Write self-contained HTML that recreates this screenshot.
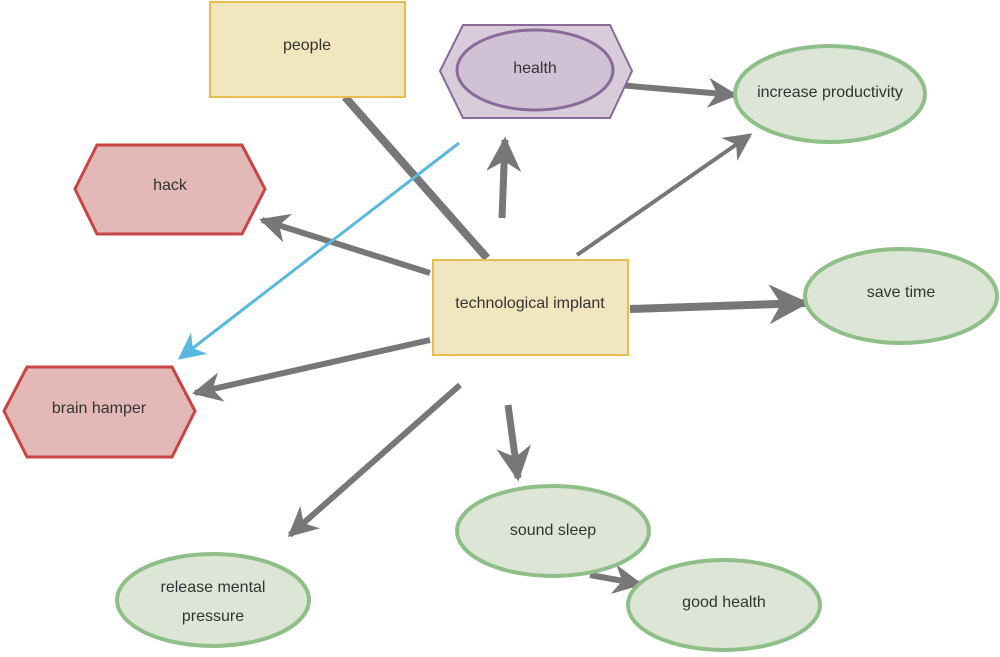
<!DOCTYPE html>
<html><head><meta charset="utf-8"><style>
html,body{margin:0;padding:0;background:#fff;width:1000px;height:657px;overflow:hidden}
svg text{font-family:"Liberation Sans",sans-serif;font-size:16px;fill:#333;text-anchor:middle;dominant-baseline:middle}
</style></head><body>
<svg width="1000" height="657" viewBox="0 0 1000 657">
<defs>
<marker id="ah" viewBox="0 0 10 10" refX="9" refY="5" markerWidth="5" markerHeight="5" orient="auto" markerUnits="strokeWidth">
<path d="M0,0 L10,5 L0,10 L3,5 Z" fill="#777"/></marker>
<marker id="ah2" viewBox="0 0 10 10" refX="9" refY="5" markerWidth="7" markerHeight="7" orient="auto" markerUnits="strokeWidth">
<path d="M0,0 L10,5 L0,10 L3,5 Z" fill="#777"/></marker>
<marker id="ahb" viewBox="0 0 10 10" refX="9" refY="5" markerWidth="9" markerHeight="9" orient="auto" markerUnits="strokeWidth">
<path d="M0,0 L10,5 L0,10 L3,5 Z" fill="#5ab8e0"/></marker>
</defs>
<g stroke="#777" fill="none">
<line x1="345" y1="97" x2="487" y2="258" stroke-width="8"/>
<line x1="502" y1="218" x2="505" y2="140" stroke-width="7" marker-end="url(#ah)"/>
<line x1="618" y1="85" x2="735" y2="95" stroke-width="6" marker-end="url(#ah)"/>
<line x1="577" y1="255" x2="750" y2="135" stroke-width="4" marker-end="url(#ah2)"/>
<line x1="430" y1="273" x2="262" y2="220" stroke-width="6" marker-end="url(#ah)"/>
<line x1="630" y1="309" x2="805" y2="303" stroke-width="8" marker-end="url(#ah)"/>
<line x1="430" y1="340" x2="195" y2="393" stroke-width="6" marker-end="url(#ah)"/>
<line x1="460" y1="385" x2="290" y2="535" stroke-width="6" marker-end="url(#ah)"/>
<line x1="508" y1="405" x2="518" y2="478" stroke-width="7" marker-end="url(#ah)"/>
<line x1="590" y1="575" x2="640" y2="584" stroke-width="6" marker-end="url(#ah)"/>
<line x1="459" y1="143" x2="180" y2="358" stroke="#5ab8e0" stroke-width="3" marker-end="url(#ahb)"/>
</g>
<g><rect x="210" y="2" width="195" height="95" fill="#f2e6bf" stroke="#e6bd4e" stroke-width="2"/><text x="307" y="46">people</text></g>
<g><polygon points="463,25 610,25 632,71 610,118 463,118 440,71" fill="#d8ccdb" stroke="#8a6a9a" stroke-width="2"/><ellipse cx="535" cy="70" rx="78" ry="40" fill="#d0c2d4" stroke="#8a6a9a" stroke-width="3"/><text x="535" y="69">health</text></g>
<g><ellipse cx="830" cy="94" rx="95" ry="48" fill="#dce5d6" stroke="#8fbf88" stroke-width="4"/><text x="830" y="93">increase productivity</text></g>
<g><polygon points="97,145 242,145 265,189 242,234 97,234 75,189" fill="#e3b9b7" stroke="#c94444" stroke-width="3"/><text x="170" y="186">hack</text></g>
<g><rect x="433" y="260" width="195" height="95" fill="#f2e6bf" stroke="#e6bd4e" stroke-width="2"/><text x="530" y="304">technological implant</text></g>
<g><ellipse cx="901" cy="296" rx="96" ry="47" fill="#dce5d6" stroke="#8fbf88" stroke-width="4"/><text x="901" y="293">save time</text></g>
<g><polygon points="27,367 172,367 195,411 172,457 27,457 4,411" fill="#e3b9b7" stroke="#c94444" stroke-width="3"/><text x="99" y="409">brain hamper</text></g>
<g><ellipse cx="553" cy="531" rx="96" ry="45" fill="#dce5d6" stroke="#8fbf88" stroke-width="4"/><text x="553" y="531">sound sleep</text></g>
<g><ellipse cx="724" cy="605" rx="96" ry="45" fill="#dce5d6" stroke="#8fbf88" stroke-width="4"/><text x="724" y="603">good health</text></g>
<g><ellipse cx="213" cy="600" rx="96" ry="46" fill="#dce5d6" stroke="#8fbf88" stroke-width="4"/><text x="213" y="588">release mental</text><text x="213" y="617">pressure</text></g>
</svg>
</body></html>
